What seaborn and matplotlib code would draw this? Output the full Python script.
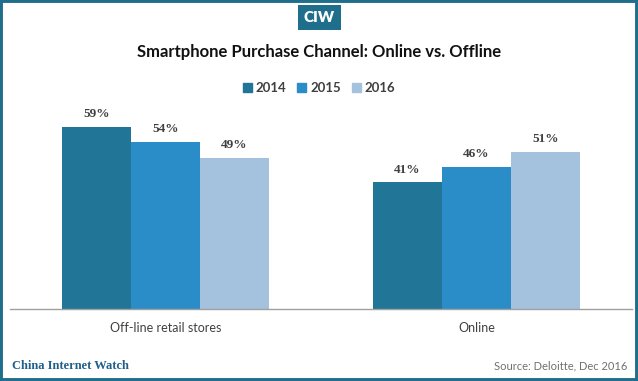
import matplotlib
matplotlib.use("Agg")
import matplotlib.pyplot as plt
import seaborn as sns
import pandas as pd
from matplotlib.patches import Rectangle

categories = ["Off-line retail stores", "Online"]
years = ["2014", "2015", "2016"]
values_2014 = [59, 41]
values_2015 = [54, 46]
values_2016 = [49, 51]
colors = ["#217596", "#2b8dc8", "#a4c2de"]

rows = []
for yr, vals in zip(years, [values_2014, values_2015, values_2016]):
    for c, v in zip(categories, vals):
        rows.append({"Channel": c, "Year": yr, "Share": v})
df = pd.DataFrame(rows)

sns.set_style("white")
plt.rcParams["font.family"] = ["Lato", "DejaVu Sans"]

fig = plt.figure(figsize=(6.38, 3.81), dpi=100)
ax = fig.add_axes([10/638, 1-309/381, 622/638, (309-93)/381])

sns.barplot(data=df, x="Channel", y="Share", hue="Year", palette=colors,
            width=0.666, saturation=1, ax=ax, legend=False, edgecolor="none")

ax.set_ylim(0, 70)
ax.set_xlim(-0.5, 1.5)
for spine in ["top", "right", "left"]:
    ax.spines[spine].set_visible(False)
ax.spines["bottom"].set_color("#a0a0a0")
ax.spines["bottom"].set_linewidth(1)
ax.set_yticks([])
ax.set_xlabel("")
ax.set_ylabel("")
ax.set_xticks([0, 1])
ax.set_xticklabels(categories, fontsize=9, color="#404040")
ax.tick_params(axis="x", length=0, pad=9)
ax.set_xticks([-0.5, 0.5, 1.5], minor=True)
ax.tick_params(axis="x", which="minor", length=4, color="#a0a0a0", direction="out")

for cont in ax.containers:
    ax.bar_label(cont, labels=[f"{int(v)}%" for v in cont.datavalues], padding=5,
                 fontsize=9.5, fontfamily="Liberation Serif", fontweight="bold", color="#404040")

# legend
handles = [Rectangle((0, 0), 1, 1, color=c) for c in colors]
fig.legend(handles, years, loc="center", bbox_to_anchor=(0.5, 1-88/381), ncol=3,
           frameon=False, handlelength=0.7, handleheight=0.7, handletextpad=0.3,
           columnspacing=0.8, prop={"size": 9.5, "weight": "bold"}, labelcolor="#404040")

fig.text(0.5, 1-52/381, "Smartphone Purchase Channel: Online vs. Offline",
         ha="center", va="center", fontsize=12, fontweight="bold", color="#111111")

# CIW logo
fig.patches.append(Rectangle((298/638, 1-30/381), 43/638, 25/381, transform=fig.transFigure,
                             facecolor="#1f6e8c", edgecolor="none", zorder=5))
fig.text(319.5/638, 1-17.5/381, "CIW", ha="center", va="center", fontsize=11,
         fontweight="heavy", fontstretch="condensed", color="white", zorder=6)

# footer
fig.text(12/638, 1-366/381, "China Internet Watch", ha="left", va="center", fontsize=9,
         fontfamily="Liberation Serif", fontweight="bold", color="#1f5f8b")
fig.text(627/638, 1-366/381, "Source: Deloitte, Dec 2016", ha="right", va="center",
         fontsize=8, color="#707070")

# border
fig.patches.append(Rectangle((0.002, 0.003), 0.996, 0.994, transform=fig.transFigure,
                             fill=False, edgecolor="#1f6e8c", linewidth=2.8, zorder=10))

fig.savefig("out.png", dpi=100)
